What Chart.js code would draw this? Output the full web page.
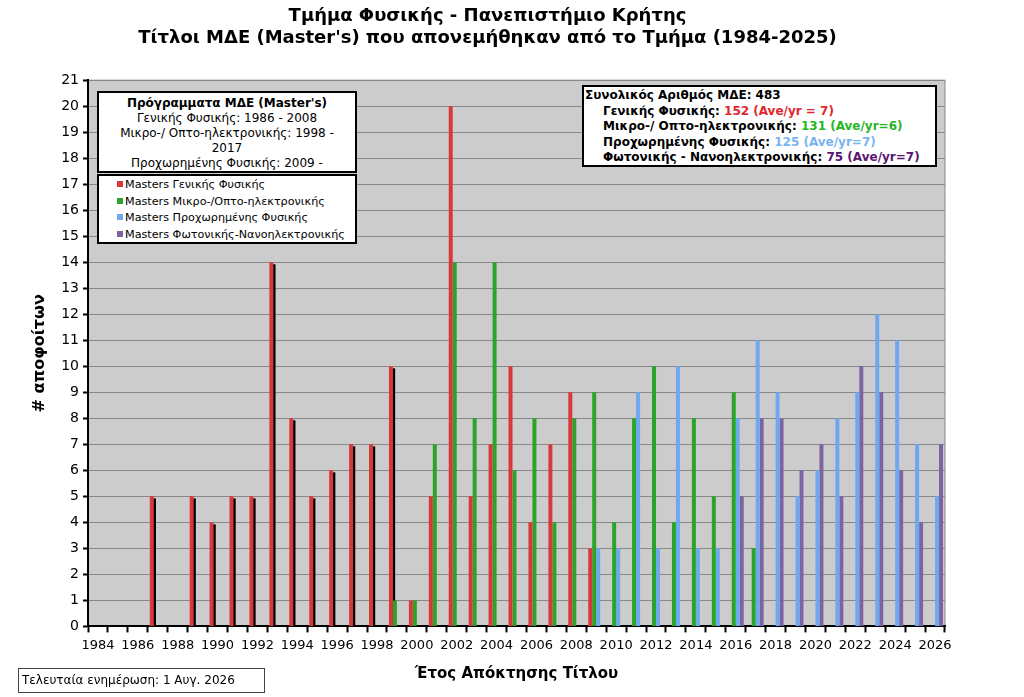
<!DOCTYPE html>
<html>
<head>
<meta charset="utf-8">
<script src="https://cdn.jsdelivr.net/npm/chart.js@4.4.1/dist/chart.umd.min.js"></script>
<style>
  body { margin: 0; background: #fff; font-family: "DejaVu Sans", sans-serif; }
  #wrap { position: relative; width: 1024px; height: 697px; }
  .box { position: absolute; background: #fff; border: 2px solid #000; box-sizing: border-box; font-size: 12px; color: #000; }
  #progs { left: 97px; top: 91px; width: 260px; height: 82px; text-align: center; line-height: 15px; padding-top: 3px; }
  #legend { left: 97px; top: 174px; width: 260px; height: 70px; padding: 1px 0 0 18px; line-height: 16.7px; font-size: 11.2px; white-space: nowrap; }
  #legend span.sq { display: inline-block; width: 6px; height: 6px; margin-right: 2px; vertical-align: 1px; }
  #totals { left: 582px; top: 85px; width: 355px; height: 82px; font-weight: bold; line-height: 15.6px; padding: 1px 0 0 1px; white-space: nowrap; }
  #totals div.sub { padding-left: 18px; }
  #updated { position: absolute; left: 18px; top: 668px; width: 247px; height: 25px; border: 1px solid #444; box-sizing: border-box; font-size: 12px; line-height: 23px; padding-left: 3px; }
</style>
</head>
<body>
<div id="wrap">
  <canvas id="mastersChart"></canvas>
  <div class="box" id="progs">
    <b>Πρόγραμματα ΜΔΕ (Master's)</b><br>
    Γενικής Φυσικής: 1986 - 2008<br>
    Μικρο-/ Οπτο-ηλεκτρονικής: 1998 -<br>2017<br>
    Προχωρημένης Φυσικής: 2009 -
  </div>
  <div class="box" id="legend"></div>
  <div class="box" id="totals">
    <div>Συνολικός Αριθμός ΜΔΕ: 483</div>
    <div class="sub">Γενικής Φυσικής: <span style="color:#e3262d">152 (Ave/yr = 7)</span></div>
    <div class="sub">Μικρο-/ Οπτο-ηλεκτρονικής: <span style="color:#25b525">131 (Ave/yr=6)</span></div>
    <div class="sub">Προχωρημένης Φυσικής: <span style="color:#78b4f2">125 (Ave/yr=7)</span></div>
    <div class="sub">Φωτονικής - Νανοηλεκτρονικής: <span style="color:#5a1470">75 (Ave/yr=7)</span></div>
  </div>
  <div id="updated">Τελευταία ενημέρωση: 1 Αυγ. 2026</div>
</div>
<script>
// years on the category axis
const years = ['1984','1985','1986','1987','1988','1989','1990','1991','1992','1993',
  '1994','1995','1996','1997','1998','1999','2000','2001','2002','2003',
  '2004','2005','2006','2007','2008','2009','2010','2011','2012','2013',
  '2014','2015','2016','2017','2018','2019','2020','2021','2022','2023',
  '2024','2025','2026'];

// Masters Γενικής Φυσικής
const genikis = [null,null,null,5,null,5,4,5,5,14,
  8,5,6,7,7,10,1,5,20,5,
  7,10,4,7,9,3,null,null,null,null,
  null,null,null,null,null,null,null,null,null,null,
  null,null,null];

// Masters Μικρο-/Οπτο-ηλεκτρονικής
const mikro = [null,null,null,null,null,null,null,null,null,null,
  null,null,null,null,null,1,1,7,14,8,
  14,6,8,4,8,9,4,8,10,4,
  8,5,9,3,null,null,null,null,null,null,
  null,null,null];

// Masters Προχωρημένης Φυσικής
const proxor = [null,null,null,null,null,null,null,null,null,null,
  null,null,null,null,null,null,null,null,null,null,
  null,null,null,null,null,3,3,9,3,10,
  3,3,8,11,9,5,6,8,9,12,
  11,7,5];

// Masters Φωτονικής-Νανοηλεκτρονικής
const foton = [null,null,null,null,null,null,null,null,null,null,
  null,null,null,null,null,null,null,null,null,null,
  null,null,null,null,null,null,null,null,null,null,
  null,null,5,8,8,6,7,5,10,9,
  6,4,7];

const shadowUntil = 1999; // old red bars have a black shadow

Chart.defaults.font.family = '"DejaVu Sans", sans-serif';
Chart.defaults.color = '#000';

const plotBg = {
  id: 'plotBg',
  beforeDraw(chart) {
    const a = chart.chartArea, c = chart.ctx;
    c.save();
    c.fillStyle = '#cccccc';
    c.fillRect(a.left, a.top, a.right - a.left, a.bottom - a.top);
    c.strokeStyle = '#888';
    c.lineWidth = 1;
    c.strokeRect(a.left, a.top, a.right - a.left, a.bottom - a.top);
    c.restore();
  }
};

// black drop shadow behind the early red bars
const barShadow = {
  id: 'barShadow',
  beforeDatasetsDraw(chart) {
    const meta = chart.getDatasetMeta(0), c = chart.ctx;
    c.save();
    c.fillStyle = '#000';
    meta.data.forEach(function (el, i) {
      if (genikis[i] == null || +years[i] > shadowUntil) return;
      const w = el.width;
      c.fillRect(el.x - w / 2 + w * 0.75, el.y + 2, w * 0.8, el.base - el.y - 2);
    });
    c.restore();
  }
};

const ctx = document.getElementById('mastersChart');
const chart = new Chart(ctx, {
  type: 'bar',
  data: {
    labels: years,
    datasets: [
      { label: 'Masters Γενικής Φυσικής', data: genikis, backgroundColor: '#d9383a' },
      { label: 'Masters Μικρο-/Οπτο-ηλεκτρονικής', data: mikro, backgroundColor: '#2aa52a' },
      { label: 'Masters Προχωρημένης Φυσικής', data: proxor, backgroundColor: '#6ea8ee' },
      { label: 'Masters Φωτονικής-Νανοηλεκτρονικής', data: foton, backgroundColor: '#7e63a3' }
    ]
  },
  options: {
    responsive: true,
    maintainAspectRatio: false,
    animation: false,
    categoryPercentage: 0.8,
    barPercentage: 1.0,
    layout: { padding: { left: 30, right: 79, top: 0, bottom: 14 } },
    plugins: {
      legend: { display: false },
      tooltip: { enabled: false },
      title: {
        display: true,
        text: ['Τμήμα Φυσικής - Πανεπιστήμιο Κρήτης', "Τίτλοι ΜΔΕ (Master's) που απονεμήθηκαν από το Τμήμα (1984-2025)"],
        font: { size: 18, weight: 'bold' },
        lineHeight: 1.25,
        color: '#000',
        padding: { top: 6, bottom: 31 }
      }
    },
    scales: {
      x: {
        grid: { display: true, drawOnChartArea: false, drawTicks: true, tickLength: 6, tickColor: '#000', tickWidth: 2, offset: true },
        border: { display: true, color: '#000', width: 2 },
        ticks: {
          autoSkip: false,
          maxRotation: 0,
          padding: 5,
          font: { size: 13 },
          callback: function (v, i) { return i % 2 === 0 ? years[i] : ''; }
        },
        title: { display: true, text: 'Έτος Απόκτησης Τίτλου', font: { size: 15, weight: 'bold' }, padding: { top: 7, bottom: 0 } }
      },
      y: {
        min: 0,
        max: 21,
        grid: { color: '#888', lineWidth: 1, tickLength: 5, tickColor: '#000', tickWidth: 2 },
        border: { display: true, color: '#000', width: 2 },
        ticks: { stepSize: 1, font: { size: 14 }, padding: 4 },
        title: { display: true, text: '# αποφοίτων', font: { size: 16, weight: 'bold' }, padding: { top: 0, bottom: 8 } }
      }
    }
  },
  plugins: [plotBg, barShadow]
});

// series legend box, built from the chart datasets
const legendBox = document.getElementById('legend');
legendBox.innerHTML = chart.data.datasets.map(function (ds) {
  return '<div><span class="sq" style="background:' + ds.backgroundColor + '"></span>' + ds.label + '</div>';
}).join('');
</script>
</body>
</html>
